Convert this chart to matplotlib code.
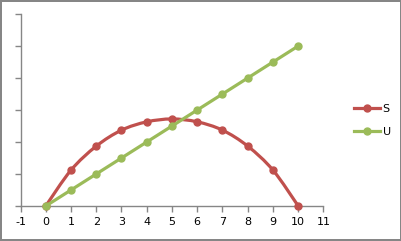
import matplotlib
matplotlib.use("Agg")
import matplotlib.pyplot as plt
from matplotlib.path import Path
from matplotlib.patches import PathPatch
from matplotlib.lines import Line2D
import numpy as np

plt.rcParams["axes.unicode_minus"] = False

# data
x_vals = [0, 1, 2, 3, 4, 5, 6, 7, 8, 9, 10]
s_vals = [0, 1.12, 1.87, 2.37, 2.63, 2.72, 2.63, 2.37, 1.87, 1.12, 0]
u_vals = [0, 0.5, 1, 1.5, 2, 2.5, 3, 3.5, 4, 4.5, 5]
x_ticks = [-1, 0, 1, 2, 3, 4, 5, 6, 7, 8, 9, 10, 11]

red = "#C0504D"
green = "#9BBB59"
grey = "#868686"

fig = plt.figure(figsize=(4.02, 2.41), dpi=100)
fig.patch.set_facecolor("white")
fig.patch.set_edgecolor(grey)
fig.patch.set_linewidth(1.5)
ax = fig.add_axes([0.051, 0.1452, 0.7537, 0.7967])

# smooth line for S (cubic bezier through the points)
pts = np.column_stack([x_vals, s_vals])
verts = [pts[0]]
codes = [Path.MOVETO]
n = len(pts)
for i in range(n - 1):
    p0 = pts[i - 1] if i > 0 else pts[i]
    p1 = pts[i]
    p2 = pts[i + 1]
    p3 = pts[i + 2] if i + 2 < n else pts[i + 1]
    c1 = p1 + (p2 - p0) / 6
    c2 = p2 - (p3 - p1) / 6
    verts += [c1, c2, p2]
    codes += [Path.CURVE4] * 3
ax.add_patch(PathPatch(Path(verts, codes), facecolor="none", edgecolor=red,
                       lw=2.3, clip_on=False, zorder=3))
ax.plot(x_vals, s_vals, ls="none", marker="o", ms=5, color=red,
        clip_on=False, zorder=4)
ax.plot(x_vals, u_vals, color=green, lw=2.3, marker="o", ms=5,
        clip_on=False, zorder=5)

ax.set_xlim(-1, 11)
ax.set_ylim(0, 6)
ax.set_xticks(x_ticks)
ax.set_yticks(range(0, 7))
ax.set_yticklabels([])
for side in ["top", "right"]:
    ax.spines[side].set_visible(False)
for side in ["left", "bottom"]:
    ax.spines[side].set_color(grey)
    ax.spines[side].set_linewidth(1)
ax.tick_params(axis="both", direction="out", length=4, width=1, color=grey,
               labelsize=8, pad=4)

handles = [Line2D([], [], color=red, lw=2.3, marker="o", ms=5),
           Line2D([], [], color=green, lw=2.3, marker="o", ms=5)]
fig.legend(handles, ["S", "U"], loc="center left",
           bbox_to_anchor=(0.855, 0.5), frameon=False, fontsize=8,
           handlelength=2.4, handletextpad=0.2, labelspacing=1.2)

fig.savefig("out.png", dpi=100)
